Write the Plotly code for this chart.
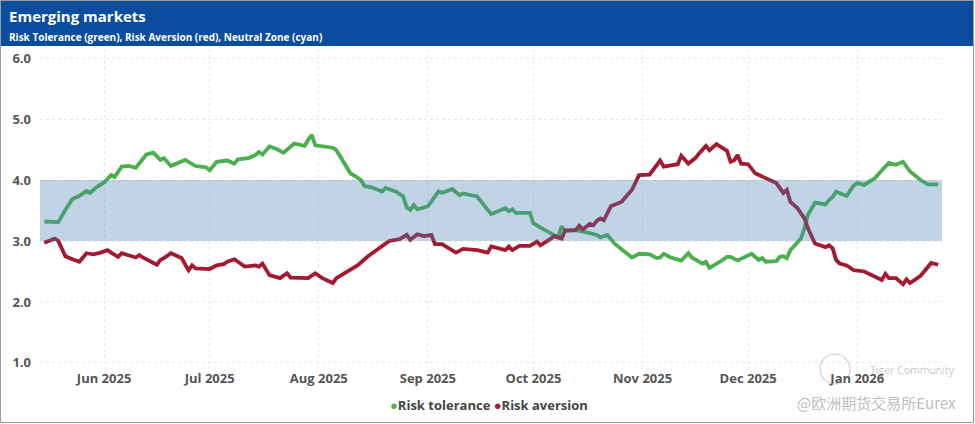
import plotly.graph_objects as go

# ---------------- data ----------------
tolerance_dates = [
    "2025-05-15", "2025-05-19", "2025-05-21", "2025-05-23", "2025-05-25", "2025-05-27", "2025-05-28", "2025-05-30",
    "2025-06-01", "2025-06-03", "2025-06-04", "2025-06-06", "2025-06-08", "2025-06-10", "2025-06-13", "2025-06-15",
    "2025-06-17", "2025-06-18", "2025-06-20", "2025-06-23", "2025-06-24", "2025-06-27", "2025-06-30",
    "2025-07-01", "2025-07-03", "2025-07-06", "2025-07-08", "2025-07-09", "2025-07-12", "2025-07-14", "2025-07-15",
    "2025-07-16", "2025-07-18", "2025-07-20", "2025-07-22", "2025-07-25", "2025-07-28", "2025-07-29", "2025-07-30",
    "2025-07-31", "2025-08-03", "2025-08-05", "2025-08-06", "2025-08-08", "2025-08-10", "2025-08-12", "2025-08-13",
    "2025-08-14", "2025-08-16", "2025-08-19", "2025-08-20", "2025-08-23", "2025-08-25", "2025-08-26", "2025-08-27",
    "2025-08-28", "2025-08-29", "2025-09-01", "2025-09-04", "2025-09-05", "2025-09-08", "2025-09-10", "2025-09-11",
    "2025-09-15", "2025-09-17", "2025-09-19", "2025-09-23", "2025-09-24", "2025-09-25", "2025-09-26", "2025-09-30",
    "2025-10-01", "2025-10-03", "2025-10-06", "2025-10-08", "2025-10-09", "2025-10-10", "2025-10-13", "2025-10-16",
    "2025-10-17", "2025-10-19", "2025-10-20", "2025-10-22", "2025-10-24", "2025-10-27", "2025-10-29", "2025-10-31",
    "2025-11-03", "2025-11-05", "2025-11-06", "2025-11-07", "2025-11-09", "2025-11-12", "2025-11-14", "2025-11-15",
    "2025-11-18", "2025-11-19", "2025-11-20", "2025-11-23", "2025-11-25", "2025-11-26", "2025-11-28",
    "2025-12-02", "2025-12-04", "2025-12-05", "2025-12-06", "2025-12-09", "2025-12-10", "2025-12-11", "2025-12-12",
    "2025-12-13", "2025-12-16", "2025-12-17", "2025-12-18", "2025-12-20", "2025-12-23", "2025-12-24", "2025-12-25",
    "2025-12-26", "2025-12-29", "2025-12-31", "2026-01-01", "2026-01-03", "2026-01-06", "2026-01-08", "2026-01-10",
    "2026-01-12", "2026-01-14", "2026-01-16", "2026-01-19", "2026-01-21", "2026-01-24",
]
tolerance_values = [
    3.32, 3.31, 3.51, 3.69, 3.74, 3.82, 3.79, 3.89,
    3.96, 4.08, 4.05, 4.22, 4.23, 4.20, 4.42, 4.45,
    4.33, 4.36, 4.23, 4.31, 4.33, 4.23, 4.21,
    4.16, 4.30, 4.32, 4.27, 4.34, 4.36, 4.41, 4.46,
    4.42, 4.55, 4.51, 4.45, 4.60, 4.56, 4.66, 4.74,
    4.57, 4.55, 4.53, 4.49, 4.30, 4.11, 4.04, 4.00,
    3.90, 3.88, 3.81, 3.87, 3.81, 3.73, 3.55, 3.51,
    3.59, 3.52, 3.57, 3.81, 3.79, 3.85, 3.75, 3.78,
    3.73, 3.59, 3.44, 3.54, 3.49, 3.52, 3.46, 3.46,
    3.29, 3.22, 3.13, 3.06, 3.24, 3.17, 3.18, 3.15,
    3.13, 3.10, 3.06, 3.10, 2.96, 2.82, 2.73, 2.79,
    2.78, 2.72, 2.73, 2.79, 2.73, 2.68, 2.80, 2.73,
    2.63, 2.66, 2.56, 2.66, 2.74, 2.74, 2.68,
    2.79, 2.69, 2.72, 2.66, 2.67, 2.74, 2.75, 2.72,
    2.85, 3.04, 3.21, 3.43, 3.63, 3.60, 3.67, 3.72,
    3.81, 3.74, 3.91, 3.95, 3.92, 4.03, 4.16, 4.28,
    4.25, 4.30, 4.14, 4.00, 3.93, 3.93,
]

aversion_dates = [
    "2025-05-15", "2025-05-18", "2025-05-19", "2025-05-21", "2025-05-23", "2025-05-25", "2025-05-27", "2025-05-29",
    "2025-05-31", "2025-06-02", "2025-06-03", "2025-06-05", "2025-06-06", "2025-06-10", "2025-06-11", "2025-06-12",
    "2025-06-16", "2025-06-17", "2025-06-18", "2025-06-20", "2025-06-23", "2025-06-24", "2025-06-25", "2025-06-26",
    "2025-06-27", "2025-07-01", "2025-07-03", "2025-07-05", "2025-07-06", "2025-07-08", "2025-07-11", "2025-07-14",
    "2025-07-15", "2025-07-16", "2025-07-18", "2025-07-21", "2025-07-23", "2025-07-24", "2025-07-29", "2025-07-31",
    "2025-08-02", "2025-08-05", "2025-08-06", "2025-08-08", "2025-08-12", "2025-08-15", "2025-08-21", "2025-08-24",
    "2025-08-26", "2025-08-27", "2025-08-29", "2025-08-31", "2025-09-02", "2025-09-03", "2025-09-05", "2025-09-09",
    "2025-09-11", "2025-09-15", "2025-09-18", "2025-09-19", "2025-09-23", "2025-09-24", "2025-09-25", "2025-09-27",
    "2025-09-30", "2025-10-02", "2025-10-03", "2025-10-07", "2025-10-09", "2025-10-10", "2025-10-13", "2025-10-14",
    "2025-10-15", "2025-10-17", "2025-10-18", "2025-10-19", "2025-10-20", "2025-10-21", "2025-10-23", "2025-10-26",
    "2025-10-28", "2025-10-29", "2025-10-31", "2025-11-03", "2025-11-06", "2025-11-07", "2025-11-11", "2025-11-12",
    "2025-11-14", "2025-11-16", "2025-11-17", "2025-11-19", "2025-11-20", "2025-11-22", "2025-11-25", "2025-11-26",
    "2025-11-27", "2025-11-28", "2025-11-29", "2025-12-01", "2025-12-03", "2025-12-06", "2025-12-08", "2025-12-09",
    "2025-12-11", "2025-12-12", "2025-12-13", "2025-12-15", "2025-12-17", "2025-12-18", "2025-12-20", "2025-12-23",
    "2025-12-24", "2025-12-25", "2025-12-26", "2025-12-27", "2025-12-29", "2025-12-31", "2026-01-03", "2026-01-08",
    "2026-01-09", "2026-01-10", "2026-01-12", "2026-01-14", "2026-01-15", "2026-01-16", "2026-01-19", "2026-01-22",
    "2026-01-24",
]
aversion_values = [
    2.97, 3.04, 3.00, 2.75, 2.70, 2.66, 2.80, 2.78,
    2.81, 2.85, 2.81, 2.74, 2.80, 2.73, 2.77, 2.73,
    2.61, 2.69, 2.72, 2.80, 2.72, 2.63, 2.52, 2.60,
    2.55, 2.54, 2.60, 2.62, 2.66, 2.70, 2.58, 2.60,
    2.58, 2.63, 2.44, 2.39, 2.47, 2.40, 2.39, 2.47,
    2.39, 2.31, 2.39, 2.46, 2.60, 2.75, 3.00, 3.03,
    3.10, 3.02, 3.11, 3.08, 3.10, 2.95, 2.95, 2.81,
    2.87, 2.85, 2.81, 2.91, 2.85, 2.91, 2.85, 2.92,
    2.92, 2.99, 2.93, 3.08, 3.04, 3.17, 3.18, 3.25,
    3.19, 3.28, 3.26, 3.33, 3.37, 3.34, 3.57, 3.64,
    3.77, 3.84, 4.08, 4.09, 4.32, 4.22, 4.26, 4.40,
    4.27, 4.36, 4.43, 4.56, 4.49, 4.59, 4.48, 4.30,
    4.32, 4.41, 4.27, 4.26, 4.11, 4.03, 3.98, 3.95,
    3.79, 3.84, 3.64, 3.54, 3.37, 3.21, 2.96, 2.90,
    2.93, 2.88, 2.69, 2.63, 2.60, 2.52, 2.50, 2.36,
    2.46, 2.39, 2.39, 2.29, 2.37, 2.31, 2.43, 2.64,
    2.61,
]

neutral_low = 3.0
neutral_high = 4.0
y_ticks = [1.0, 2.0, 3.0, 4.0, 5.0, 6.0]
y_tick_labels = ["1.0", "2.0", "3.0", "4.0", "5.0", "6.0"]

title_text = "Emerging markets"
subtitle_text = "Risk Tolerance (green), Risk Aversion (red), Neutral Zone (cyan)"
series_names = ["Risk tolerance", "Risk aversion"]

# ---------------- style ----------------
W, H = 975, 424
ML, MR, MT, MB = 40, 33, 49, 55
PW, PH = W - ML - MR, H - MT - MB
GREEN = "#4BAF4F"
RED = "#A3192F"
HEADER = "#0A4D9E"
FONT = "Open Sans"
TICK_COLOR = "#555555"


def px_x(p):
    return (p - ML) / PW


def px_y(p):
    return (H - MB - p) / PH


fig = go.Figure()

fig.add_trace(go.Scatter(
    x=tolerance_dates, y=tolerance_values, mode="lines", name=series_names[0],
    line=dict(color=GREEN, width=3.8), showlegend=False))
fig.add_trace(go.Scatter(
    x=aversion_dates, y=aversion_values, mode="lines", name=series_names[1],
    line=dict(color=RED, width=3.8), showlegend=False))

shapes = [
    # neutral zone (drawn over the lines, semi transparent)
    dict(type="rect", xref="paper", yref="y", x0=0, x1=1, y0=neutral_low, y1=neutral_high,
         fillcolor="rgba(70,130,180,0.34)", line=dict(width=0), layer="above"),
    # header banner
    dict(type="rect", xref="paper", yref="paper", x0=px_x(1), x1=px_x(973), y0=px_y(46), y1=px_y(1),
         fillcolor=HEADER, line=dict(width=0), layer="above"),
    # outer frame
    dict(type="rect", xref="paper", yref="paper", x0=px_x(0.5), x1=px_x(973.5), y0=px_y(422.5), y1=px_y(0.5),
         fillcolor="rgba(0,0,0,0)", line=dict(color="#9a9a9a", width=1), layer="above"),
    # watermark logo ring
    dict(type="circle", xref="paper", yref="paper", x0=px_x(820), x1=px_x(850), y0=px_y(384),
         y1=px_y(354), line=dict(color="rgba(150,150,150,0.45)", width=1.2), layer="above"),
]

legend_text = (
    f"<span style='color:{GREEN}'>●</span>{series_names[0]} "
    f"<span style='color:{RED}'>●</span>{series_names[1]}"
)

annotations = [
    dict(text=title_text, xref="paper", yref="paper", x=px_x(7), y=px_y(16), xanchor="left", yanchor="middle",
         showarrow=False, font=dict(family=FONT, size=15, color="white", weight="bold")),
    dict(text=subtitle_text, xref="paper", yref="paper", x=px_x(7), y=px_y(37), xanchor="left", yanchor="middle",
         showarrow=False, font=dict(family=FONT, size=10, color="white", weight="bold")),
    # legend
    dict(text=legend_text, xref="paper", yref="paper", x=px_x(489), y=px_y(405), xanchor="center",
         yanchor="middle", showarrow=False, font=dict(family=FONT, size=13, color="#444444", weight="bold")),
    # watermark
    dict(text="Tiger Community", xref="paper", yref="paper", x=px_x(957), y=px_y(370), xanchor="right",
         yanchor="middle", showarrow=False, font=dict(family=FONT, size=10.5, color="rgba(150,150,150,0.55)")),
    dict(text="@欧洲期货交易所Eurex", xref="paper", yref="paper", x=px_x(958), y=px_y(402), xanchor="right",
         yanchor="middle", showarrow=False,
         font=dict(family="Noto Sans CJK SC", size=15, color="rgba(150,150,150,0.65)")),
]

fig.update_layout(
    width=W, height=H,
    margin=dict(l=ML, r=MR, t=MT, b=MB, autoexpand=False),
    paper_bgcolor="white", plot_bgcolor="white",
    font=dict(family=FONT, color=TICK_COLOR),
    shapes=shapes, annotations=annotations,
    showlegend=False,
    xaxis=dict(
        type="date", range=["2025-05-13 19:00", "2026-01-25 02:00"],
        tick0="2025-06-01", dtick="M1", tickformat="%b %Y",
        showgrid=True, gridcolor="#e8e8e8", griddash="dot", gridwidth=1,
        showline=False, zeroline=False, ticks="", ticklabelstandoff=0,
        tickfont=dict(family=FONT, size=13, color=TICK_COLOR, weight="bold"),
    ),
    yaxis=dict(
        range=[0.9, 6.15], tickvals=y_ticks, ticktext=y_tick_labels,
        showgrid=True, gridcolor="#e8e8e8", griddash="dot", gridwidth=1,
        showline=False, zeroline=False, ticks="", ticklabelstandoff=8,
        tickfont=dict(family=FONT, size=13, color=TICK_COLOR, weight="bold"),
    ),
)

fig.write_html(
    "out.html",
    config={"displayModeBar": False, "staticPlot": True},
    post_script="document.body.style.margin='0';document.body.style.overflow='hidden';",
)
